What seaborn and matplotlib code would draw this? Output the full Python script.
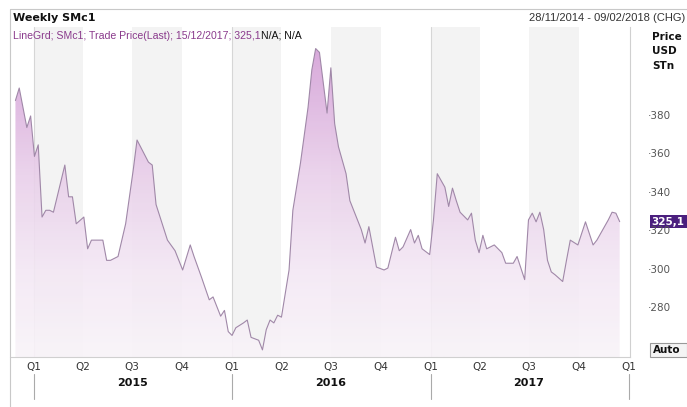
import numpy as np
import pandas as pd
import matplotlib
matplotlib.use('Agg')
import matplotlib.pyplot as plt
import matplotlib.dates as mdates
from matplotlib.colors import LinearSegmentedColormap
from matplotlib.patches import Rectangle
from matplotlib.lines import Line2D
import seaborn as sns

# weekly SMc1 closes
dates = [
    '2014-11-28', '2014-12-05', '2014-12-19', '2014-12-26', '2015-01-02', '2015-01-09',
    '2015-01-16', '2015-01-23', '2015-01-30', '2015-02-06', '2015-02-27', '2015-03-06',
    '2015-03-13', '2015-03-20', '2015-04-03', '2015-04-10', '2015-04-17', '2015-05-08',
    '2015-05-15', '2015-05-22', '2015-06-05', '2015-06-19', '2015-07-03', '2015-07-10',
    '2015-07-31', '2015-08-07', '2015-08-14', '2015-09-04', '2015-09-18', '2015-10-02',
    '2015-10-16', '2015-10-23', '2015-11-06', '2015-11-20', '2015-11-27', '2015-12-11',
    '2015-12-18', '2015-12-25', '2016-01-01', '2016-01-08', '2016-01-22', '2016-01-29',
    '2016-02-05', '2016-02-19', '2016-02-26', '2016-03-04', '2016-03-11', '2016-03-18',
    '2016-03-25', '2016-04-01', '2016-04-15', '2016-04-22', '2016-05-06', '2016-05-20',
    '2016-05-27', '2016-06-03', '2016-06-10', '2016-06-24', '2016-07-01', '2016-07-08',
    '2016-07-15', '2016-07-29', '2016-08-05', '2016-08-19', '2016-08-26', '2016-09-02',
    '2016-09-09', '2016-09-16', '2016-09-23', '2016-10-07', '2016-10-14', '2016-10-28',
    '2016-11-04', '2016-11-11', '2016-11-25', '2016-12-02', '2016-12-09', '2016-12-16',
    '2016-12-30', '2017-01-06', '2017-01-13', '2017-01-27', '2017-02-03', '2017-02-10',
    '2017-02-17', '2017-02-24', '2017-03-10', '2017-03-17', '2017-03-24', '2017-03-31',
    '2017-04-07', '2017-04-14', '2017-04-28', '2017-05-12', '2017-05-19', '2017-06-02',
    '2017-06-09', '2017-06-16', '2017-06-23', '2017-06-30', '2017-07-07', '2017-07-14',
    '2017-07-21', '2017-07-28', '2017-08-04', '2017-08-11', '2017-08-18', '2017-09-01',
    '2017-09-08', '2017-09-15', '2017-09-29', '2017-10-13', '2017-10-20', '2017-10-27',
    '2017-11-03', '2017-11-10', '2017-11-24', '2017-12-01', '2017-12-08', '2017-12-15',
]
prices = [
    388, 394.5, 374, 380, 359, 365,
    327.5, 331, 331, 330, 354.5, 338,
    338, 324, 327.5, 311, 315.5, 315.5,
    305, 305, 307, 324, 352, 367.5,
    356, 354.5, 334, 315.5, 310, 300,
    313, 307, 296, 284.5, 286, 276,
    279, 268, 266, 270, 272.5, 274,
    265, 263.5, 258.5, 269, 274, 272.5,
    276.5, 275.5, 300, 331, 355.5, 384.5,
    404, 415, 413, 381.5, 405, 376,
    364, 350, 336, 326, 321, 314,
    322.5, 312, 301.5, 300, 301, 317,
    310, 312, 321, 314, 318, 311,
    308, 326, 350, 343, 333, 342.5,
    336, 330, 326, 329.5, 315.5, 309,
    318, 311, 313, 309, 303.5, 303.5,
    307, 301, 295, 326, 329.5, 325,
    330, 321, 305, 299, 297.5, 294,
    305, 315.5, 313, 325, 319, 313,
    315.5, 319, 326, 330, 329.5, 325.1,
]

years = [2015, 2016, 2017]
quarter_names = ['Q1', 'Q2', 'Q3', 'Q4']
price_ticks = [280, 300, 320, 340, 360, 380]
last_label = '325,1'
last_value = 325.1

df = pd.DataFrame({'date': pd.to_datetime(dates), 'price': prices})

W, H = 687, 407
fig = plt.figure(figsize=(W / 100, H / 100), dpi=100)
sns.set_style('white')
plt.rcParams['font.family'] = ['DejaVu Sans']
NARROW = ['Liberation Sans', 'DejaVu Sans']

# plot area in pixels: x 10..630, y 27..357
ax = fig.add_axes([10 / W, 1 - 357 / H, 620 / W, 330 / H])
ymin, ymax = 254.8, 426.2
xmin, xmax = pd.Timestamp('2014-11-18'), pd.Timestamp('2018-01-03')

# alternate quarter shading (Q1 and Q3 grey)
for yr in years:
    for q in (1, 3):
        start = pd.Timestamp(yr, 3 * q - 2, 1)
        end = pd.Timestamp(yr, 3 * q + 1, 1)
        ax.axvspan(start, end, color='#f3f3f3', lw=0, zorder=0)
for yr in years:
    ax.axvline(pd.Timestamp(yr, 1, 1), color='#d6d6d6', lw=0.8, zorder=0.5)

# gradient area under the line
fill = ax.fill_between(df['date'], df['price'], ymin, color='none', lw=0)
cmap = LinearSegmentedColormap.from_list(
    'lilac', [(0.0, '#f9f4f9'), (0.28, '#f3e7f4'), (0.58, '#e9cfea'), (1.0, '#d39ed6')])
grad = np.linspace(0, 1, 256).reshape(-1, 1)
im = ax.imshow(grad, aspect='auto', cmap=cmap, origin='lower', alpha=0.9,
               extent=[mdates.date2num(xmin), mdates.date2num(xmax), ymin, 418],
               zorder=1)
im.set_clip_path(fill.get_paths()[0], transform=ax.transData)

sns.lineplot(data=df, x='date', y='price', ax=ax, color='#a088a8', lw=0.8, zorder=2)

ax.set_xlim(xmin, xmax)
ax.set_ylim(ymin, ymax)
ax.set_xticks([])
ax.set_yticks([])
ax.set_xlabel('')
ax.set_ylabel('')
for side in ['top', 'left']:
    ax.spines[side].set_visible(False)
for side in ['right', 'bottom']:
    ax.spines[side].set_color('#d0d0d0')
    ax.spines[side].set_linewidth(0.8)

# outer frame lines
fig.add_artist(Line2D([10 / W, 1], [1 - 9 / H] * 2, color='#c8c8c8', lw=0.8))
fig.add_artist(Line2D([10 / W] * 2, [0, 1 - 9 / H], color='#c8c8c8', lw=0.8))

# header
fig.text(13 / W, 1 - 18 / H, 'Weekly SMc1', fontsize=8, fontweight='bold',
         va='center', ha='left', color='#111111')
fig.text(685 / W, 1 - 18 / H, '28/11/2014 - 09/02/2018 (CHG)', fontsize=8,
         family=NARROW, va='center', ha='right', color='#333333')
t = fig.text(13 / W, 1 - 36 / H, 'LineGrd; SMc1; Trade Price(Last); 15/12/2017; ' + last_label,
             fontsize=7.6, family=NARROW, va='center', ha='left', color='#8a3a8c')
fig.canvas.draw()
bb = t.get_window_extent()
fig.text(bb.x1 / W, 1 - 36 / H, 'N/A; N/A', fontsize=7.6, family=NARROW, va='center',
         ha='left', color='#111111')

# right price axis
for i, word in enumerate(['Price', 'USD', 'STn']):
    fig.text(652 / W, 1 - (37 + 14.5 * i) / H, word, fontsize=7.5, fontweight='bold',
             va='center', ha='left', color='#111111')
label_x = 648 / W
for v in price_ticks:
    yf = ax.transData.transform((0, v))[1] / H
    fig.text(label_x, yf, '·' + str(v), fontsize=7.5, va='center',
             ha='left', color='#555555')
yf = ax.transData.transform((0, last_value))[1] / H
fig.add_artist(Rectangle((650 / W, yf - 6.5 / H), 37 / W, 13 / H, fc='#4b1f7e', ec='none'))
fig.text(651 / W, yf, last_label, fontsize=7.5, fontweight='bold', va='center',
         ha='left', color='white')
fig.add_artist(Rectangle((650 / W, 1 - 357 / H), 37 / W, 14 / H, fc='#f4f4f4',
                         ec='#999999', lw=0.8))
fig.text(653 / W, 1 - 350 / H, 'Auto', fontsize=7.5, fontweight='bold', va='center',
         ha='left', color='#111111')

# quarter / year axis
trans_x = ax.get_xaxis_transform()
px = 1 / 330  # one pixel in axes-height units
for yr in years + [2018]:
    for q, name in enumerate(quarter_names):
        if yr == 2018 and q > 0:
            break
        d = pd.Timestamp(yr, 3 * q + 1, 1)
        ax.text(d, -10 * px, name, transform=trans_x, fontsize=7.5, va='center',
                ha='center', color='#333333', clip_on=False)
    ax.add_line(Line2D([pd.Timestamp(yr, 1, 1)] * 2, [-17 * px, -42 * px],
                       transform=trans_x, color='#aaaaaa', lw=0.8, clip_on=False))
for yr in years:
    ax.text(pd.Timestamp(yr, 7, 1), -26 * px, str(yr), transform=trans_x, fontsize=8,
            fontweight='bold', va='center', ha='center', color='#111111', clip_on=False)

fig.savefig('out.png', dpi=100)
